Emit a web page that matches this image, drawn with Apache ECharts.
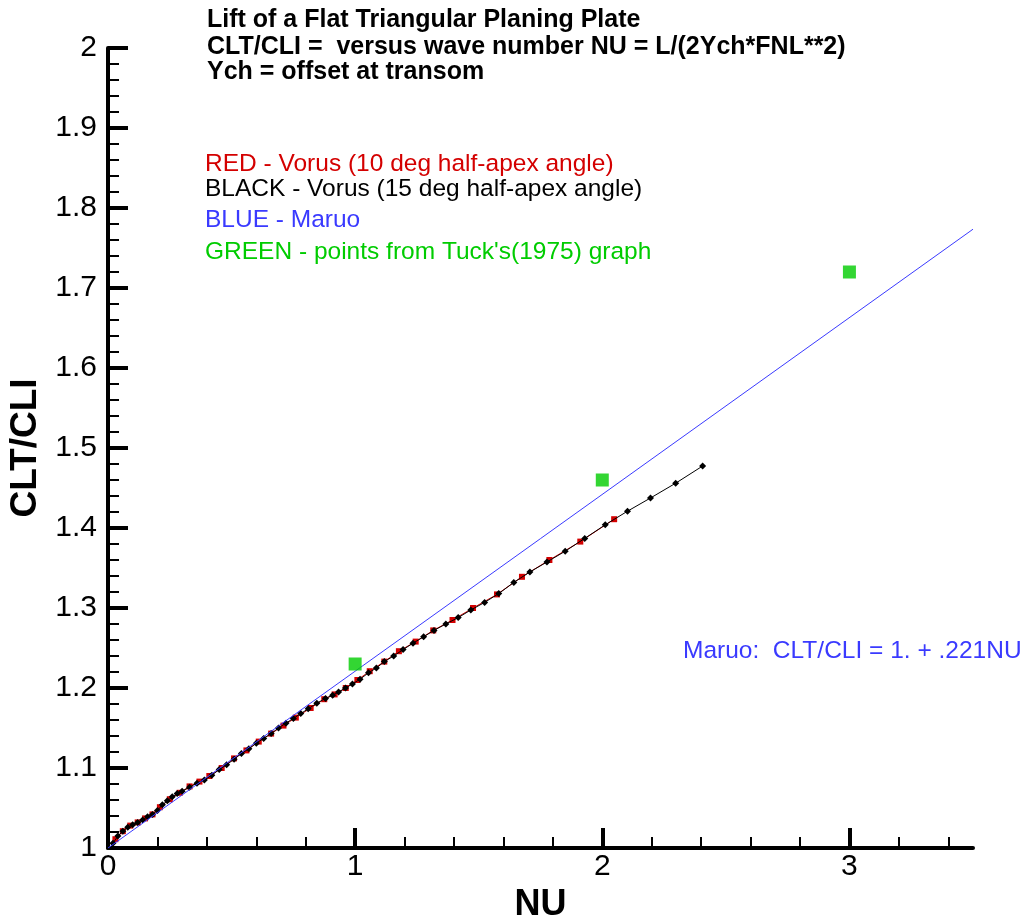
<!DOCTYPE html>
<html>
<head>
<meta charset="utf-8">
<script src="https://cdn.jsdelivr.net/npm/echarts@6/dist/echarts.min.js"></script>
<style>
html,body{margin:0;padding:0;background:#fff;overflow:hidden;}
#chart{width:1026px;height:918px;}
</style>
</head>
<body>
<div id="chart"></div>
<script>
// ---- data ----
var blackX = [0.02,0.04,0.06,0.08,0.10,0.12,0.14,0.16,0.18,0.20,0.22,0.24,0.26,0.28,0.30,
  0.33,0.36,0.39,0.42,0.45,0.48,0.51,0.54,0.57,0.60,0.63,0.66,0.69,0.72,0.75,0.78,0.81,
  0.845,0.880,0.909,0.933,0.961,0.989,1.020,1.054,1.086,1.118,1.156,1.194,1.234,1.277,1.319,1.367,1.417,1.468,
  1.524,1.581,1.642,1.707,1.776,1.850,1.929,2.012,2.102,2.195,2.297,2.406];
var blackY = [1.006,1.015,1.021,1.026,1.029,1.032,1.035,1.039,1.042,1.047,1.054,1.059,1.064,1.068,1.071,
  1.076,1.081,1.085,1.091,1.098,1.104,1.111,1.118,1.124,1.131,1.137,1.143,1.150,1.156,1.162,1.168,1.174,
  1.181,1.187,1.191,1.195,1.200,1.205,1.211,1.219,1.225,1.233,1.240,1.248,1.256,1.264,1.272,1.280,1.288,1.2975,
  1.307,1.318,1.332,1.345,1.3575,1.371,1.387,1.404,1.421,1.4375,1.456,1.4775];
var redX = [0.03,0.06,0.09,0.12,0.15,0.18,0.21,0.25,0.29,0.33,0.37,0.41,0.46,0.51,0.56,0.61,0.66,0.71,0.76,0.82,
  0.875,0.917,0.962,1.009,1.059,1.118,1.177,1.245,1.316,1.394,1.477,1.574,1.675,1.786,1.911,2.048];
var redY = [1.011,1.021,1.028,1.032,1.037,1.042,1.051,1.061,1.069,1.077,1.083,1.090,1.100,1.112,1.122,1.133,1.143,1.153,1.163,1.175,
  1.186,1.192,1.200,1.210,1.221,1.233,1.246,1.258,1.272,1.285,1.300,1.317,1.339,1.360,1.383,1.411];
var maruoX = [0, 3.5];
var maruoY = [1.0, 1.7735];
var tuckX = [1, 2, 3];
var tuckY = [1.23, 1.46, 1.72];
var xMajorTicks = [0, 1, 2, 3];
var titleLines = ['Lift of a Flat Triangular Planing Plate',
  'CLT/CLI =  versus wave number NU = L/(2Ych*FNL**2)',
  'Ych = offset at transom'];
var legendLines = [
  {text: 'RED - Vorus (10 deg half-apex angle)', color: '#d40000'},
  {text: 'BLACK - Vorus (15 deg half-apex angle)', color: '#000000'},
  {text: 'BLUE - Maruo', color: '#3a3aff'},
  {text: "GREEN - points from Tuck's(1975) graph", color: '#00cc00'}
];
var maruoNote = 'Maruo:  CLT/CLI = 1. + .221NU';

function zip(a, b) { return a.map(function (v, i) { return [v, b[i]]; }); }

var FONT = '"Liberation Sans", Arial, Helvetica, sans-serif';
var chart = echarts.init(document.getElementById('chart'), null, {renderer: 'canvas', width: 1026, height: 918});

var graphics = [];
var titleY = [20, 47, 72];
titleLines.forEach(function (t, i) {
  graphics.push({type: 'text', x: 207, y: titleY[i],
    style: {text: t, font: 'bold 25px ' + FONT, fill: '#000', verticalAlign: 'middle', align: 'left'}});
});
var legY = [164, 189, 220, 252];
legendLines.forEach(function (l, i) {
  graphics.push({type: 'text', x: 205, y: legY[i],
    style: {text: l.text, font: '24.5px ' + FONT, fill: l.color, verticalAlign: 'middle', align: 'left'}});
});
graphics.push({type: 'text', x: 683, y: 651,
  style: {text: maruoNote, font: '24.5px ' + FONT, fill: '#3a3aff', verticalAlign: 'middle', align: 'left'}});

var option = {
  animation: false,
  backgroundColor: '#fff',
  grid: {left: 108, right: 53, top: 48, bottom: 70, containLabel: false, outerBoundsMode: 'none'},
  xAxis: {
    type: 'value', min: 0, max: 3.5, interval: 1,
    name: 'NU', nameLocation: 'middle', nameGap: 36,
    nameTextStyle: {fontFamily: FONT, fontWeight: 'bold', fontSize: 36, color: '#000'},
    axisLine: {show: true, onZero: false, lineStyle: {color: '#000', width: 4}},
    axisTick: {show: true, inside: true, length: 20, customValues: xMajorTicks, lineStyle: {color: '#000', width: 4}},
    minorTick: {show: true, splitNumber: 5, length: 11, lineStyle: {color: '#000', width: 2}},
    axisLabel: {show: true, customValues: xMajorTicks, margin: 4, fontFamily: FONT, fontSize: 30, color: '#000',
      formatter: function (v) { return v === 3.5 ? '' : String(v); }},
    splitLine: {show: false}, minorSplitLine: {show: false}
  },
  yAxis: {
    type: 'value', min: 1, max: 2, interval: 0.1,
    name: 'CLT/CLI', nameLocation: 'middle', nameGap: 57, nameRotate: 90,
    nameTextStyle: {fontFamily: FONT, fontWeight: 'bold', fontSize: 37, color: '#000'},
    axisLine: {show: true, onZero: false, lineStyle: {color: '#000', width: 4}},
    axisTick: {show: true, inside: true, length: 20, lineStyle: {color: '#000', width: 4}},
    minorTick: {show: true, splitNumber: 5, length: 11, lineStyle: {color: '#000', width: 2}},
    axisLabel: {show: true, margin: 11, fontFamily: FONT, fontSize: 30, color: '#000',
      formatter: function (v) { return String(Math.round(v * 10) / 10); }},
    splitLine: {show: false}, minorSplitLine: {show: false}
  },
  graphic: graphics,
  series: [
    {type: 'line', name: 'red', data: zip(redX, redY), symbol: 'rect', symbolSize: 6,
      lineStyle: {color: '#d40000', width: 1}, itemStyle: {color: '#d40000'}, z: 2},
    {type: 'line', name: 'black', data: zip(blackX, blackY), symbol: 'diamond', symbolSize: 7,
      lineStyle: {color: '#000', width: 1}, itemStyle: {color: '#000'}, z: 3},
    {type: 'line', name: 'maruo', data: zip(maruoX, maruoY), symbol: 'none',
      lineStyle: {color: '#3a3aff', width: 1}, z: 4},
    {type: 'scatter', name: 'tuck', data: zip(tuckX, tuckY), symbol: 'rect', symbolSize: 13,
      itemStyle: {color: '#00cc00'}, z: 5}
  ]
};
chart.setOption(option);
</script>
</body>
</html>
